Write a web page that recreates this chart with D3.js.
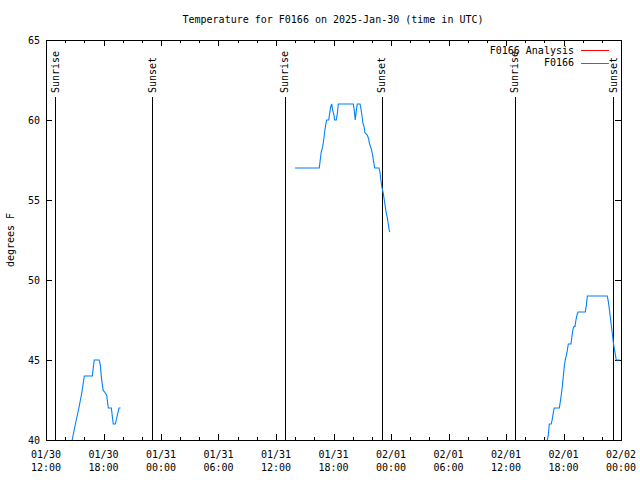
<!DOCTYPE html>
<html><head><meta charset="utf-8">
<script src="https://cdn.jsdelivr.net/npm/d3@7"></script>
<style>
body{margin:0;background:#fff}
text{font-family:"DejaVu Sans Mono","Liberation Mono",monospace;font-size:10px;fill:#000}
</style>
</head><body>
<svg id="c" width="640" height="480"></svg>
<script>
const titleText = "Temperature for F0166 on 2025-Jan-30 (time in UTC)";
const yLabelText = "degrees F";
const yTicks = [40, 45, 50, 55, 60, 65];
const xDomain = ["2025-01-30T12:00Z", "2025-02-02T00:00Z"];
const legendLabels = ["F0166 Analysis", "F0166"];
const legendColors = ["#ff0000", "#0080ff"];

const sunTimes = ["2025-01-30T12:58Z","2025-01-30T23:06Z","2025-01-31T12:56Z","2025-01-31T23:02Z","2025-02-01T12:56Z","2025-02-01T23:12Z"];
const sunLabels = ["Sunrise","Sunset","Sunrise","Sunset","Sunrise","Sunset"];

// Observations (null = gap)
const obsTimes = [
 "01-30 14:44","01-30 15:04","01-30 15:26","01-30 15:45","01-30 16:00","01-30 16:50","01-30 17:02","01-30 17:33","01-30 17:40","01-30 17:48","01-30 17:58","01-30 18:07","01-30 18:20","01-30 18:30","01-30 18:49","01-30 19:01","01-30 19:14","01-30 19:37","01-30 19:47",
 "01-31 00:00",
 "01-31 13:59","01-31 16:31","01-31 16:37","01-31 16:43","01-31 16:52","01-31 16:58","01-31 17:05","01-31 17:11","01-31 17:17","01-31 17:30","01-31 17:36","01-31 17:42","01-31 17:49","01-31 17:55","01-31 18:03","01-31 18:07","01-31 18:17","01-31 18:24","01-31 18:30","01-31 20:04","01-31 20:10","01-31 20:16","01-31 20:23","01-31 20:29","01-31 20:46","01-31 20:52","01-31 20:58","01-31 21:04","01-31 21:11","01-31 21:17","01-31 21:28","01-31 21:34","01-31 21:40","01-31 21:46","01-31 21:53","01-31 21:59","01-31 22:05","01-31 22:11","01-31 22:18","01-31 22:45","01-31 22:51","01-31 22:57","01-31 23:03","01-31 23:12","01-31 23:18","01-31 23:24","01-31 23:30","01-31 23:37","01-31 23:43","01-31 23:49","01-31 23:52",
 "02-01 06:00",
 "02-01 16:18","02-01 16:25","02-01 16:31","02-01 16:43","02-01 16:50","02-01 16:56","02-01 17:02","02-01 17:34","02-01 17:40","02-01 17:46","02-01 17:52","02-01 17:59","02-01 18:05","02-01 18:11","02-01 18:17","02-01 18:24","02-01 18:30","02-01 18:47","02-01 18:53","02-01 18:59","02-01 19:06","02-01 19:12","02-01 19:18","02-01 19:24","02-01 19:31","02-01 20:16","02-01 20:23","02-01 20:29","02-01 22:34","02-01 22:40","02-01 22:47","02-01 22:53","02-01 22:59","02-01 23:05","02-01 23:12","02-01 23:18","02-01 23:24","02-01 23:30","02-01 23:53"
];
const obsTemps = [
 40,41,42,43,44,44,45,45,44.7,43.8,43.1,43,42.8,42,42,41,41,42,42,
 null,
 57,57,57.5,58,58.3,58.7,59.3,59.7,60,60,60.4,60.8,61,60.6,60.3,60,60,60.4,61,61,60.6,60,60.6,61,61,60.7,60.3,59.8,59.6,59.2,59.1,59,58.8,58.5,58.3,58.1,57.8,57.4,57,57,56.75,56.2,55.8,55.4,55,54.6,54.2,53.9,53.5,53.1,53,
 null,
 40,40.3,41,41,41.3,41.7,42,42,42.4,42.8,43.3,44,44.6,45,45.25,45.6,46,46,46.5,46.9,47.1,47.1,47.5,47.8,48,48,48.4,49,49,48.7,48.2,47.7,47.2,46.7,46.1,45.7,45.4,45,45
];

const svg = d3.select("#c");
const L = 46, R = 621, T = 40, B = 440;
const parseObs = s => new Date("2025-" + s.replace(" ", "T") + "Z");

const x = d3.scaleUtc().domain(xDomain.map(d => new Date(d))).range([L, R]);
const y = d3.scaleLinear().domain([40, 65]).range([B, T]);

svg.append("defs").append("clipPath").attr("id", "clip")
  .append("rect").attr("x", L).attr("y", T).attr("width", R - L + 1).attr("height", B - T + 1);

// Title
svg.append("text").attr("x", 333).attr("y", 19).attr("dy", "0.35em")
  .attr("text-anchor", "middle").text(titleText);

// Y label
svg.append("text").attr("transform", `translate(10,${(T + B) / 2}) rotate(-90)`)
  .attr("dy", "0.35em").attr("text-anchor", "middle").text(yLabelText);

const g = svg.append("g").attr("shape-rendering", "crispEdges");
const px = v => Math.round(v) + 0.5;

// Y ticks (left and mirrored right)
yTicks.forEach(v => {
  const yy = px(y(v));
  g.append("line").attr("x1", L).attr("x2", L + 6).attr("y1", yy).attr("y2", yy).attr("stroke", "#000");
  g.append("line").attr("x1", R - 6).attr("x2", R).attr("y1", yy).attr("y2", yy).attr("stroke", "#000");
  svg.append("text").attr("x", 40).attr("y", y(v)).attr("dy", "0.35em")
    .attr("text-anchor", "end").text(v);
});

// X ticks
const majors = x.ticks(d3.utcHour.every(6));
const minors = x.ticks(d3.utcHour.every(2)).filter(d => d.getUTCHours() % 6 !== 0);
const fmtDate = d3.utcFormat("%m/%d"), fmtTime = d3.utcFormat("%H:%M");
majors.forEach(d => {
  const xx = px(x(d));
  g.append("line").attr("x1", xx).attr("x2", xx).attr("y1", B).attr("y2", B - 6).attr("stroke", "#000");
  g.append("line").attr("x1", xx).attr("x2", xx).attr("y1", T).attr("y2", T + 6).attr("stroke", "#000");
  const t = svg.append("text").attr("x", x(d)).attr("text-anchor", "middle");
  t.append("tspan").attr("x", x(d)).attr("y", 454).attr("dy", "0.35em").text(fmtDate(d));
  t.append("tspan").attr("x", x(d)).attr("y", 467).attr("dy", "0.35em").text(fmtTime(d));
});
minors.forEach(d => {
  const xx = px(x(d));
  g.append("line").attr("x1", xx).attr("x2", xx).attr("y1", B).attr("y2", B - 3).attr("stroke", "#000");
  g.append("line").attr("x1", xx).attr("x2", xx).attr("y1", T).attr("y2", T + 3).attr("stroke", "#000");
});

// Sun lines
sunTimes.forEach((s, i) => {
  const d = new Date(s);
  const xx = px(x(d));
  g.append("line").attr("x1", xx).attr("x2", xx).attr("y1", 97).attr("y2", B).attr("stroke", "#000");
  svg.append("text").attr("transform", `translate(${x(d)},93) rotate(-90)`)
    .attr("dy", "0.35em").attr("text-anchor", "start").text(sunLabels[i]);
});

// Observation line
const obs = obsTimes.map((t, i) => ({ t: parseObs(t), v: obsTemps[i] }));
const line = d3.line().defined(d => d.v !== null).x(d => x(d.t)).y(d => y(d.v));
svg.append("path").datum(obs).attr("clip-path", "url(#clip)")
  .attr("fill", "none").attr("stroke", legendColors[1]).attr("stroke-width", 1.1)
  .attr("d", line);

// Border
g.append("rect").attr("x", L + 0.5).attr("y", T + 0.5).attr("width", R - L).attr("height", B - T)
  .attr("fill", "none").attr("stroke", "#000");

// Legend
legendLabels.forEach((lab, i) => {
  const yy = 50 + i * 12.5;
  svg.append("text").attr("x", 574).attr("y", yy).attr("dy", "0.35em")
    .attr("text-anchor", "end").text(lab);
  g.append("line").attr("x1", 581).attr("x2", 609).attr("y1", px(yy)).attr("y2", px(yy))
    .attr("stroke", legendColors[i]);
});
</script>
</body></html>
